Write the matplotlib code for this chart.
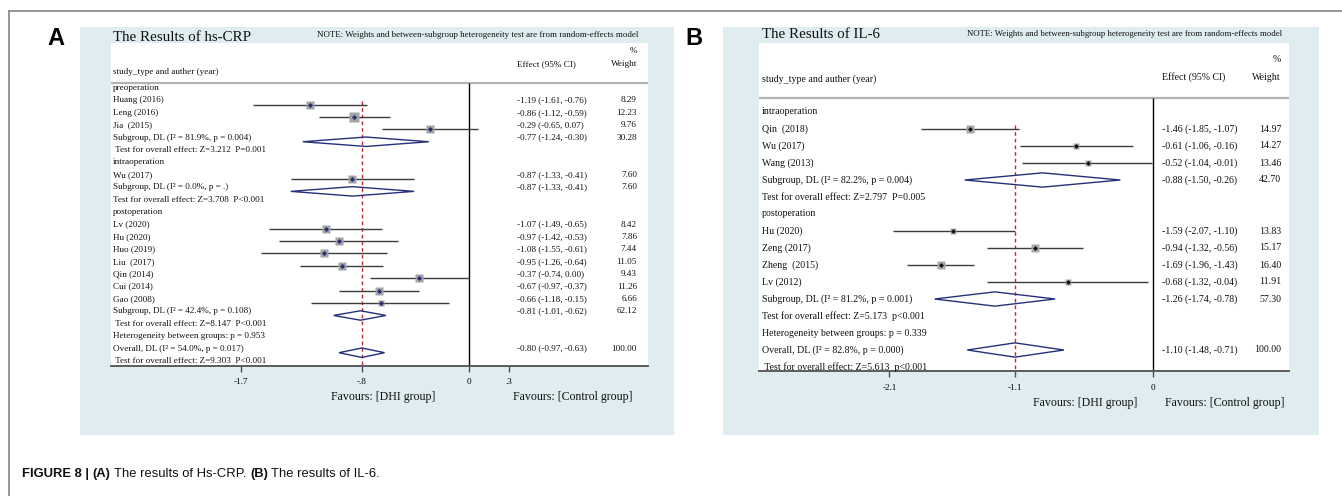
import matplotlib
matplotlib.use("Agg")
import matplotlib.pyplot as plt
from matplotlib.patches import Rectangle, Polygon
from matplotlib.lines import Line2D
from matplotlib.transforms import blended_transform_factory

W, H, DPI = 1342, 496, 100

# ======================= DATA : panel A (hs-CRP) =======================
A_title = "The Results of hs-CRP"
A_groups = ["preoperation", "intraoperation", "postoperation"]
A_studies = [["Huang (2016)", "Leng (2016)", "Jia  (2015)"],
             ["Wu (2017)"],
             ["Lv (2020)", "Hu (2020)", "Huo (2019)", "Liu  (2017)",
              "Qin (2014)", "Cui (2014)", "Gao (2008)"]]
A_est = [[-1.19, -0.86, -0.29], [-0.87],
         [-1.07, -0.97, -1.08, -0.95, -0.37, -0.67, -0.66]]
A_lo = [[-1.61, -1.12, -0.65], [-1.33],
        [-1.49, -1.42, -1.55, -1.26, -0.74, -0.97, -1.18]]
A_hi = [[-0.76, -0.59, 0.07], [-0.41],
        [-0.65, -0.53, -0.61, -0.64, 0.00, -0.37, -0.15]]
A_wt = [[8.29, 12.23, 9.76], [7.60],
        [8.42, 7.86, 7.44, 11.05, 9.43, 11.26, 6.66]]
A_sub_label = ["Subgroup, DL (I\u00b2 = 81.9%, p = 0.004)",
               "Subgroup, DL (I\u00b2 = 0.0%, p = .)",
               "Subgroup, DL (I\u00b2 = 42.4%, p = 0.108)"]
A_sub_est = [-0.77, -0.87, -0.81]
A_sub_lo = [-1.24, -1.33, -1.01]
A_sub_hi = [-0.30, -0.41, -0.62]
A_sub_wt = [30.28, 7.60, 62.12]
A_sub_test = [" Test for overall effect: Z=3.212  P=0.001",
              "Test for overall effect: Z=3.708  P<0.001",
              " Test for overall effect: Z=8.147  P<0.001"]
A_het = "Heterogeneity between groups: p = 0.953"
A_overall_label = "Overall, DL (I\u00b2 = 54.0%, p = 0.017)"
A_overall = [-0.80, -0.97, -0.63, 100.00]
A_overall_test = " Test for overall effect: Z=9.303  P<0.001"
A_ticks = [-1.7, -0.8, 0.0, 0.3]
A_ticklabels = ["-1.7", "-.8", "0", ".3"]

# ======================= DATA : panel B (IL-6) =======================
B_title = "The Results of IL-6"
B_groups = ["intraoperation", "postoperation"]
B_studies = [["Qin  (2018)", "Wu (2017)", "Wang (2013)"],
             ["Hu (2020)", "Zeng (2017)", "Zheng  (2015)", "Lv (2012)"]]
B_est = [[-1.46, -0.61, -0.52], [-1.59, -0.94, -1.69, -0.68]]
B_lo = [[-1.85, -1.06, -1.04], [-2.07, -1.32, -1.96, -1.32]]
B_hi = [[-1.07, -0.16, -0.01], [-1.10, -0.56, -1.43, -0.04]]
B_wt = [[14.97, 14.27, 13.46], [13.83, 15.17, 16.40, 11.91]]
B_sub_label = ["Subgroup, DL (I\u00b2 = 82.2%, p = 0.004)",
               "Subgroup, DL (I\u00b2 = 81.2%, p = 0.001)"]
B_sub_est = [-0.88, -1.26]
B_sub_lo = [-1.50, -1.74]
B_sub_hi = [-0.26, -0.78]
B_sub_wt = [42.70, 57.30]
B_sub_test = ["Test for overall effect: Z=2.797  P=0.005",
              "Test for overall effect: Z=5.173  p<0.001"]
B_het = "Heterogeneity between groups: p = 0.339"
B_overall_label = "Overall, DL (I\u00b2 = 82.8%, p = 0.000)"
B_overall = [-1.10, -1.48, -0.71, 100.00]
B_overall_test = " Test for overall effect: Z=5.613  p<0.001"
B_ticks = [-2.1, -1.1, 0.0]
B_ticklabels = ["-2.1", "-1.1", "0"]

NOTE = "NOTE: Weights and between-subgroup heterogeneity test are from random-effects model"
CAPTION = [("FIGURE 8 |", "bold"), ("(A)", "bold"), ("The results of Hs-CRP.", "normal"),
           ("(B)", "bold"), ("The results of IL-6.", "normal")]


def build_rows(groups, studies, est, lo, hi, wt, sub_label, sub_est, sub_lo,
               sub_hi, sub_wt, sub_test, het, ov_label, ov, ov_test):
    rows = []
    for g in range(len(groups)):
        rows.append(("head", groups[g], None))
        for k in range(len(studies[g])):
            rows.append(("study", studies[g][k], (est[g][k], lo[g][k], hi[g][k], wt[g][k])))
        rows.append(("sub", sub_label[g], (sub_est[g], sub_lo[g], sub_hi[g], sub_wt[g])))
        rows.append(("test", sub_test[g], None))
    rows.append(("het", het, None))
    rows.append(("sub", ov_label, tuple(ov)))
    rows.append(("test", ov_test, None))
    return rows


rows_A = build_rows(A_groups, A_studies, A_est, A_lo, A_hi, A_wt, A_sub_label,
                    A_sub_est, A_sub_lo, A_sub_hi, A_sub_wt, A_sub_test, A_het,
                    A_overall_label, A_overall, A_overall_test)
rows_B = build_rows(B_groups, B_studies, B_est, B_lo, B_hi, B_wt, B_sub_label,
                    B_sub_est, B_sub_lo, B_sub_hi, B_sub_wt, B_sub_test, B_het,
                    B_overall_label, B_overall, B_overall_test)

# ======================= STYLE / LAYOUT =======================
BG = "#dfedf0"
SERIF = ["Liberation Serif", "DejaVu Serif"]
NAVY = "#26307a"
RED = "#c2262b"

layout_A = dict(bg=(80, 27, 674, 435), ax=(111, 43, 648, 366), zero_px=469, unit_px=134.0,
                row0=88.0, drow=12.41, mk_off=0.33, dia_h=0.38, fs=6.6,
                title_xy=(113, 41), title_fs=10.8, note_xy=(638, 37), note_fs=6.4,
                pct_y=51, eff_hdr_y=64, study_hdr_y=72, sep_y=83,
                lab_x=113, eff_x=517, wt_x=637, red_top_row=1,
                fav_y=397, fav_l=383, fav_r=573, sq=(2.6, "#a3a3a3"), dot=(2.6, NAVY),
                letter="A", letter_x=47, tick_pad=4.5)
layout_B = dict(bg=(723, 27, 1319, 435), ax=(759, 43, 1289, 371), zero_px=1153, unit_px=125.5,
                row0=112.0, drow=17.0, mk_off=0.0, dia_h=0.42, fs=7.15,
                title_xy=(762, 38), title_fs=10.8, note_xy=(1282, 36), note_fs=6.3,
                pct_y=60, eff_hdr_y=77, study_hdr_y=79, sep_y=98,
                lab_x=762, eff_x=1162, wt_x=1281, red_top_row=1,
                fav_y=403, fav_l=1085, fav_r=1225, sq=(1.85, "#a8a8a8"), dot=(2.5, "#111111"),
                letter="B", letter_x=685, tick_pad=5.0)

fig = plt.figure(figsize=(W / DPI, H / DPI), dpi=DPI)
fig.patch.set_facecolor("white")


def fx(px):
    return px / W


def fy(py):
    return 1 - py / H


# outer frame (top and left)
fig.add_artist(Line2D([fx(9), fx(9)], [0, fy(11)], transform=fig.transFigure,
                      color="#8c8c8c", lw=1.3))
fig.add_artist(Line2D([fx(9), 1], [fy(11), fy(11)], transform=fig.transFigure,
                      color="#8c8c8c", lw=1.3))


def draw_panel(rows, L, title, ticks, ticklabels, overall):
    x0, y0, x1, y1 = L["bg"]
    fig.add_artist(Rectangle((fx(x0), fy(y1)), (x1 - x0) / W, (y1 - y0) / H,
                             transform=fig.transFigure, facecolor=BG, edgecolor="none",
                             zorder=-5))
    ax_l, ax_t, ax_r, ax_b = L["ax"]
    ax = fig.add_axes([fx(ax_l), fy(ax_b), (ax_r - ax_l) / W, (ax_b - ax_t) / H])
    ax.set_facecolor("white")
    u = L["unit_px"]
    ax.set_xlim((ax_l - L["zero_px"]) / u, (ax_r - L["zero_px"]) / u)

    def prow(py):  # pixel y -> row units
        return (py - L["row0"]) / L["drow"]

    ax.set_ylim(prow(ax_b), prow(ax_t))
    for s in ("left", "right", "top"):
        ax.spines[s].set_visible(False)
    ax.spines["bottom"].set_color("#505050")
    ax.spines["bottom"].set_linewidth(1.3)
    ax.set_yticks([])
    ax.set_xticks(ticks)
    ax.set_xticklabels(ticklabels, fontfamily=SERIF, fontsize=6.6)
    ax.tick_params(axis="x", length=4, width=1, color="#505050", pad=L["tick_pad"])

    tr_lab = blended_transform_factory(ax.transAxes, ax.transData)
    fxa = lambda px: (px - ax_l) / (ax_r - ax_l)
    fs = L["fs"]
    txt = dict(fontfamily=SERIF, fontsize=fs, color="#111111", va="center",
               transform=tr_lab)

    ybottom = prow(ax_b)
    sep = prow(L["sep_y"])
    ax.axhline(sep, color="#b3b3b3", lw=1.6, zorder=1)
    ax.vlines(0, sep, ybottom, color="black", lw=1.0, zorder=2)
    ax.vlines(overall[0], L["red_top_row"] + L["mk_off"] - 0.25, ybottom, color=RED,
              lw=1.0, linestyles=(0, (2.6, 2.2)), zorder=2)

    for i, (kind, label, vals) in enumerate(rows):
        ax.text(fxa(L["lab_x"]), i, label, ha="left", **txt)
        if vals is None:
            continue
        e, lo, hi, w = vals
        ax.text(fxa(L["eff_x"]), i, f"{e:.2f} ({lo:.2f}, {hi:.2f})", ha="left", **txt)
        ax.text(fxa(L["wt_x"]), i, f"{w:.2f}", ha="right", **txt)
        ym = i + L["mk_off"]
        if kind == "study":
            ax.plot([lo, hi], [ym, ym], color="#3c3c3c", lw=1.0, zorder=3,
                    solid_capstyle="butt")
            side = L["sq"][0] * w ** 0.5 * 0.72
            ax.plot([e], [ym], marker="s", ms=side, color=L["sq"][1], mec="none", zorder=4)
            ax.plot([e], [ym], marker="D", ms=L["dot"][0], color=L["dot"][1], mec="none",
                    zorder=5)
        else:
            h = L["dia_h"]
            ax.add_patch(Polygon([(lo, ym), (e, ym - h), (hi, ym), (e, ym + h)], closed=True,
                                 facecolor="none", edgecolor=NAVY, lw=1.0, zorder=4))

    hdr = dict(fontfamily=SERIF, fontsize=fs, color="#111111", va="center", transform=tr_lab)
    ax.text(fxa(L["wt_x"]), prow(L["pct_y"]), "%", ha="right", **hdr)
    ax.text(fxa(L["eff_x"]), prow(L["eff_hdr_y"]), "Effect (95% CI)", ha="left", **hdr)
    ax.text(fxa(L["wt_x"]), prow(L["eff_hdr_y"]), "Weight", ha="right", **hdr)
    ax.text(fxa(L["lab_x"]), prow(L["study_hdr_y"]), "study_type and auther (year)",
            ha="left", **hdr)

    fig.text(fx(L["title_xy"][0]), fy(L["title_xy"][1]), title, fontfamily=SERIF,
             fontsize=L["title_fs"], color="#111111", va="baseline", ha="left")
    fig.text(fx(L["note_xy"][0]), fy(L["note_xy"][1]), NOTE, fontfamily=SERIF,
             fontsize=L["note_fs"], color="#111111", va="baseline", ha="right")
    for xp, s in ((L["fav_l"], "Favours: [DHI group]"), (L["fav_r"], "Favours: [Control group]")):
        fig.text(fx(xp), fy(L["fav_y"]), s, fontfamily=SERIF, fontsize=8.6,
                 color="#111111", va="center", ha="center")
    fig.text(fx(L["letter_x"]), fy(45), L["letter"], fontfamily=["Liberation Sans", "DejaVu Sans"],
             fontsize=17, fontweight="bold", va="baseline", ha="left")
    return ax


draw_panel(rows_A, layout_A, A_title, A_ticks, A_ticklabels, A_overall)
draw_panel(rows_B, layout_B, B_title, B_ticks, B_ticklabels, B_overall)

# caption with mixed weights
cap_font = ["Liberation Sans Narrow", "Liberation Sans", "DejaVu Sans"]
cap_fs = 9.4
prev = fig.text(fx(22), fy(477), CAPTION[0][0], fontfamily=cap_font, fontsize=cap_fs,
                fontweight=CAPTION[0][1], va="baseline", ha="left", color="#111111")
for s, wgt in CAPTION[1:]:
    prev = plt.annotate(s, xy=(1, 0), xycoords=prev, xytext=(2.6, 0), textcoords="offset points",
                        fontfamily=cap_font, fontsize=cap_fs, fontweight=wgt, va="bottom",
                        ha="left", color="#111111", annotation_clip=False)

fig.savefig("out.png", dpi=DPI)
